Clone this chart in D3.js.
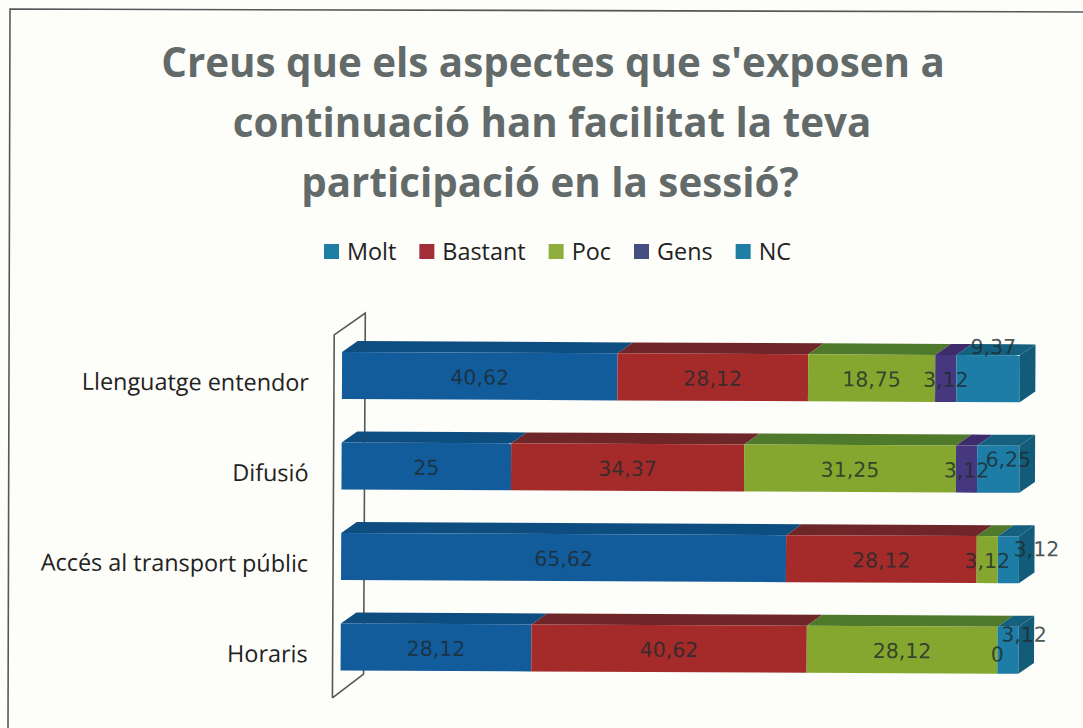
<!DOCTYPE html>
<html>
<head>
<meta charset="utf-8">
<script src="https://cdn.jsdelivr.net/npm/d3@7"></script>
<style>
  html, body { margin: 0; padding: 0; background: #fdfdfa; }
  svg { display: block; }
</style>
</head>
<body>
<svg id="chart" width="1083" height="728"></svg>
<script>
const titleLines = [
  "Creus que els aspectes que s'exposen a",
  "continuació han facilitat la teva",
  "participació en la sessió?"
]
const categories = ['Llenguatge entendor', 'Difusió', 'Accés al transport públic', 'Horaris']
const seriesNames = ['Molt', 'Bastant', 'Poc', 'Gens', 'NC']
const molt = [40.62, 25, 65.62, 28.12]
const bastant = [28.12, 34.37, 28.12, 40.62]
const poc = [18.75, 31.25, 3.12, 28.12]
const gens = [3.12, 3.12, 0, 0]
const nc = [9.37, 6.25, 3.12, 3.12]

const frontColors = ['#135c9c', '#a52b2b', '#86a72f', '#46387f', '#1e7da6']
const topColors = ['#0e4d80', '#6e2628', '#4f7a2b', '#3e2b6c', '#15607f']
const legendColors = ['#1f7ea3', '#a32e38', '#8fae3e', '#464d80', '#1f7ea3']
const sideColor = '#125c7a'
const font = '"Open Sans", sans-serif'
const valueFont = '"DejaVu Sans", sans-serif'

// labels PowerPoint pushed off their segment: [row, series, dx, dy]
const labelNudges = [[0, 4, 5, -33], [1, 4, 10, -11], [2, 4, 28, -12], [3, 4, 16, -17], [3, 3, 0, 3]]
const skipLabels = [[2, 3]] // empty Gens segment on the transport row has no label

const rows = categories.map((c, i) => ({
  name: c, Molt: molt[i], Bastant: bastant[i], Poc: poc[i], Gens: gens[i], NC: nc[i]
}))
const stacked = d3.stack().keys(seriesNames)(rows)

const svg = d3.select('#chart')
const depth = { x: 15.5, y: -11 }

const x = d3.scaleLinear().domain([0, 100]).range([342, 1020])
const y = d3.scaleBand().domain(categories).range([352, 670.5]).paddingInner(0.48).paddingOuter(0)

// scanned page frame
svg.append('path')
  .attr('d', d3.line()([[1083, 12], [10, 9], [8, 728]]))
  .attr('fill', 'none')
  .attr('stroke', '#55585a')
  .attr('stroke-width', 1.6)

// title
svg.append('g')
  .selectAll('text')
  .data(titleLines)
  .join('text')
    .attr('x', (d, i) => [553, 552, 550][i])
    .attr('y', (d, i) => [77, 137, 197][i])
    .attr('text-anchor', 'middle')
    .attr('font-family', font)
    .attr('font-weight', 700)
    .attr('font-size', 40.3)
    .attr('fill', '#636a6a')
    .text(d => d)

// legend, laid out from the text widths
const legend = svg.append('g')
let legendX = 324
seriesNames.forEach((name, i) => {
  legend.append('rect')
    .attr('x', legendX)
    .attr('y', 244)
    .attr('width', 15)
    .attr('height', 15)
    .attr('fill', legendColors[i])
  const t = legend.append('text')
    .attr('x', legendX + 23)
    .attr('y', 260)
    .attr('font-family', font)
    .attr('font-size', 23.4)
    .attr('fill', '#222')
    .text(name)
  legendX += 23 + t.node().getComputedTextLength() + 23
})

// the scan sits a little crooked, so the plot does too
const plot = svg.append('g').attr('transform', 'rotate(0.28 342 376)')

// side wall behind the bars
const wallFront = x(0) - 8
const wallBack = wallFront + 31
plot.append('path')
  .attr('d', d3.line()([[wallFront, 698], [wallFront, 335], [wallBack, 313], [wallBack, 674], [wallFront, 698]]))
  .attr('fill', 'none')
  .attr('stroke', '#55585a')
  .attr('stroke-width', 1.6)

const yAxis = d3.axisLeft(y).tickSize(0).tickPadding(0)
plot.append('g')
  .attr('transform', 'translate(309,8)')
  .call(yAxis)
  .call(g => g.select('.domain').remove())
  .call(g => g.selectAll('text')
    .attr('font-family', font)
    .attr('font-size', 23.4)
    .attr('fill', '#222'))

const bars = plot.append('g')
stacked.forEach((layer, s) => {
  const g = bars.append('g')
  layer.forEach((d, r) => {
    const y0 = y(categories[r])
    const x0 = x(d[0])
    const x1 = x(d[1])
    if (x1 - x0 < 0.01) return
    g.append('path')
      .attr('d', d3.line()([[x0, y0], [x1, y0], [x1 + depth.x, y0 + depth.y], [x0 + depth.x, y0 + depth.y]]))
      .attr('fill', topColors[s])
    g.append('rect')
      .attr('x', x0)
      .attr('y', y0)
      .attr('width', x1 - x0)
      .attr('height', y.bandwidth())
      .attr('fill', frontColors[s])
  })
})

// right hand cap of each bar
rows.forEach((row, r) => {
  const y0 = y(row.name)
  const xEnd = x(d3.sum(seriesNames, k => row[k]))
  plot.append('path')
    .attr('d', d3.line()([
      [xEnd, y0], [xEnd + depth.x, y0 + depth.y],
      [xEnd + depth.x, y0 + depth.y + y.bandwidth()], [xEnd, y0 + y.bandwidth()]
    ]))
    .attr('fill', sideColor)
})

// value labels go last so they overlap the bars like the original
const labels = plot.append('g')
stacked.forEach((layer, s) => {
  layer.forEach((d, r) => {
    if (skipLabels.some(k => k[0] === r && k[1] === s)) return
    const nudge = labelNudges.find(k => k[0] === r && k[1] === s) || [r, s, 0, 0]
    labels.append('text')
      .attr('x', x((d[0] + d[1]) / 2) + nudge[2])
      .attr('y', y(categories[r]) + y.bandwidth() / 2 + nudge[3] + 1)
      .attr('dy', '0.36em')
      .attr('text-anchor', 'middle')
      .attr('font-family', valueFont)
      .attr('font-size', 20.5)
      .attr('fill', '#1c2a2c')
      .attr('fill-opacity', 0.8)
      .text(String(d[1] - d[0] === 0 ? 0 : rows[r][seriesNames[s]]).replace('.', ','))
  })
})
</script>
</body>
</html>
